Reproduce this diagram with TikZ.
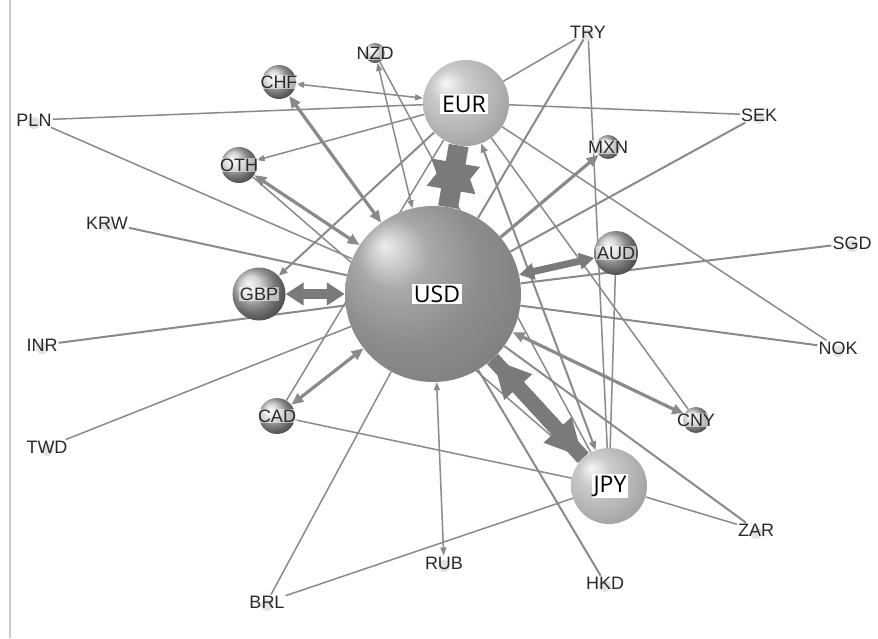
\documentclass[tikz,border=0pt]{standalone}
\usepackage{fontspec}
\setmainfont{Liberation Sans}
\newfontfamily\hubfont{Open Sans}
\usetikzlibrary{arrows.meta,backgrounds}

\definecolor{edgec}{gray}{0.54}
\definecolor{thickc}{gray}{0.48}
\definecolor{labc}{gray}{0.16}
\definecolor{uA}{gray}{0.93}
\definecolor{uB}{gray}{0.66}
\definecolor{uC}{gray}{0.55}
\definecolor{uD}{gray}{0.49}
\definecolor{eA}{gray}{0.97}
\definecolor{eB}{gray}{0.80}
\definecolor{eC}{gray}{0.70}
\definecolor{eD}{gray}{0.58}

\pgfdeclareradialshading{usdshade}{\pgfpoint{-14bp}{14bp}}{color(0bp)=(uA); color(10bp)=(uB); color(22bp)=(uC); color(36bp)=(uD); color(50bp)=(uD)}
\pgfdeclareradialshading{eurshade}{\pgfpoint{-12bp}{12bp}}{color(0bp)=(eA); color(10bp)=(eB); color(24bp)=(eC); color(38bp)=(eD); color(50bp)=(eD)}

\tikzset{
  hub/.style={circle, inner sep=0pt, draw=none},
  sph/.style={circle, inner sep=0pt, shading=ball, ball color=gray!45},
  hublab/.style={fill=white, inner sep=2pt, font=\hubfont\fontsize{23}{24}\selectfont, text=black},
  sphlab/.style={fill=white, fill opacity=0.55, text opacity=1, inner sep=1pt, font=\fontsize{18}{19}\selectfont, text=labc},
  tinylab/.style={inner sep=1pt, font=\fontsize{18}{19}\selectfont, text=labc},
  dotmark/.style={circle, fill=gray!22, minimum size=12pt, inner sep=0pt},
  thinedge/.style={draw=edgec, line width=1.5pt, >={Triangle[length=8pt,width=6pt]}},
  midedge/.style={draw=edgec, line width=2pt, >={Triangle[length=9pt,width=7pt]}},
  medarrow/.style={draw=edgec, line width=3.2pt, >={Triangle[length=12pt,width=10pt]}},
  hugearrow/.style={draw=thickc, fill=thickc, line width=20pt},
  bigarrow/.style={draw=thickc, fill=thickc, line width=15pt}
}

\begin{document}
\begin{tikzpicture}[x=1pt,y=-1pt]
\useasboundingbox (0,0) rectangle (878,638);

% small marker dots for minor currencies
\foreach \p in {(588,35),(759,118),(852,246),(838,351),(756,533),(605,586),(444,566),(267,605),(47,450),(42,348),(107,226),(34,123)}
  \node[dotmark] at \p {};

% minor currency labels
\node[tinylab] (TRY) at (588,32) {TRY};
\node[tinylab] (SEK) at (759,115) {SEK};
\node[tinylab] (SGD) at (852,243) {SGD};
\node[tinylab] (NOK) at (838,348) {NOK};
\node[tinylab] (ZAR) at (756,530) {ZAR};
\node[tinylab] (HKD) at (605,583) {HKD};
\node[tinylab] (RUB) at (444,563) {RUB};
\node[tinylab] (BRL) at (267,602) {BRL};
\node[tinylab] (TWD) at (47,447) {TWD};
\node[tinylab] (INR) at (42,345) {INR};
\node[tinylab] (KRW) at (107,223) {KRW};
\node[tinylab] (PLN) at (34,120) {PLN};

% spheres
\node[sph, minimum size=53pt] (GBP) at (259,294) {};
\node[sph, minimum size=44pt] (AUD) at (616,253) {};
\node[sph, minimum size=34pt] (CHF) at (279,82) {};
\node[sph, minimum size=36pt] (OTH) at (239,165) {};
\node[sph, minimum size=36pt] (CAD) at (277,416) {};
\node[sph, minimum size=26pt] (CNY) at (696,420) {};
\node[sph, minimum size=24pt] (MXN) at (608,147) {};
\node[sph, minimum size=20pt] (NZD) at (375,53) {};

\node[sphlab] at (259,294) {GBP};
\node[sphlab] at (616,253) {AUD};
\node[sphlab] at (279,82) {CHF};
\node[sphlab] at (239,165) {OTH};
\node[sphlab] at (277,416) {CAD};
\node[sphlab] at (696,420) {CNY};
\node[sphlab] at (608,147) {MXN};
\node[sphlab] at (375,53) {NZD};

\node[hub, minimum size=176pt, shading=usdshade] (USD) at (433,294) {};
\node[hub, minimum size=86pt, shading=eurshade] (EUR) at (466,103) {};
\node[hub, minimum size=76pt, shading=eurshade] (JPY) at (609,486) {};

\node[hublab] at (437,294) {USD};
\node[hublab] at (464,104) {EUR};
\node[hublab] at (610,486) {JPY};

\begin{scope}[on background layer]
\fill[white] (0,0) rectangle (878,638);
\draw[gray!40, line width=2pt] (10,0) -- (10,638);

\draw[thinedge] (PLN) -- (EUR);
\draw[thinedge] (PLN) -- (USD);
\draw[midedge] (KRW) -- (USD);
\draw[midedge] (INR) -- (USD);
\draw[thinedge] (TWD) -- (USD);
\draw[thinedge] (BRL) -- (USD);
\draw[thinedge] (BRL) -- (JPY);
\draw[thinedge, <->] (RUB) -- (USD);
\draw[midedge] (HKD) -- (USD);
\draw[midedge] (ZAR) -- (USD);
\draw[thinedge] (ZAR) -- (JPY);
\draw[midedge] (NOK) -- (USD);
\draw[thinedge] (NOK) -- (EUR);
\draw[midedge] (SGD) -- (USD);
\draw[thinedge] (SEK) -- (EUR);
\draw[midedge] (SEK) -- (USD);
\draw[thinedge] (TRY) -- (EUR);
\draw[midedge] (TRY) -- (USD);
\draw[thinedge] (TRY) -- (JPY);
\draw[thinedge] (AUD) -- (JPY);
\draw[thinedge] (CNY) -- (EUR);
\draw[thinedge] (CAD) -- (JPY);
\draw[thinedge] (CAD) -- (EUR);
\draw[thinedge] (NZD) -- (JPY);
\draw[thinedge] (OTH) -- (JPY);
\draw[thinedge, <->] (NZD) -- (USD);
\draw[thinedge, <->] (CHF) -- (EUR);
\draw[thinedge, ->] (EUR) -- (OTH);
\draw[midedge, ->] (EUR) -- (GBP);
\draw[midedge, <->] (EUR) -- (JPY);
\draw[medarrow, <->] (CHF) -- (USD);
\draw[medarrow, <->] (OTH) -- (USD);
\draw[medarrow, <->] (CAD) -- (USD);
\draw[medarrow, <->] (CNY) -- (USD);
\draw[medarrow, ->] (USD) -- (MXN);
\draw[draw=thickc, line width=7pt, {Triangle[length=15pt,width=16pt]}-{Triangle[length=15pt,width=16pt]}] (USD) -- (AUD);
\draw[draw=thickc, line width=10pt, {Triangle[length=18pt,width=22pt]}-{Triangle[length=18pt,width=22pt]}] (GBP) -- (USD);

\draw[hugearrow, -{Triangle[length=45pt,width=46pt]}] (USD) -- (EUR);
\draw[hugearrow, -{Triangle[length=45pt,width=46pt]}] (EUR) -- (USD);
\draw[bigarrow, -{Triangle[length=38pt,width=35pt]}] (USD) -- (JPY);
\draw[bigarrow, -{Triangle[length=38pt,width=35pt]}] (JPY) -- (USD);
\end{scope}
\end{tikzpicture}
\end{document}
